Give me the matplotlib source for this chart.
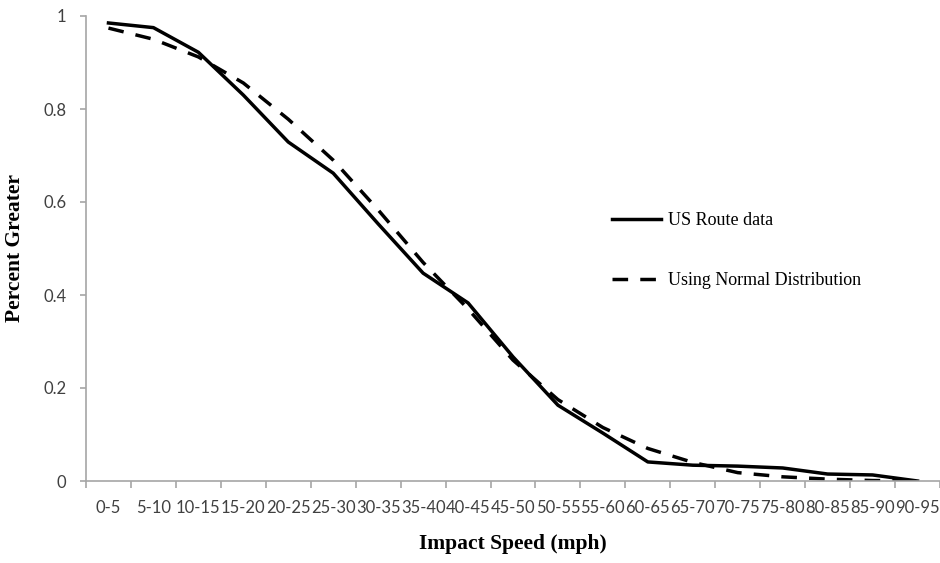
import numpy as np
import matplotlib.pyplot as plt

# speed bins
bins = ['0-5', '5-10', '10-15', '15-20', '20-25', '25-30', '30-35', '35-40',
        '40-45', '45-50', '50-55', '55-60', '60-65', '65-70', '70-75', '75-80',
        '80-85', '85-90', '90-95']

# fraction of impacts greater than the bin
us_route = [0.985, 0.975, 0.922, 0.830, 0.729, 0.662, 0.553, 0.447, 0.383,
            0.267, 0.163, 0.103, 0.041, 0.034, 0.032, 0.028, 0.015, 0.013, 0.0]
normal_dist = [0.974, 0.950, 0.912, 0.856, 0.778, 0.690, 0.583, 0.470, 0.370,
               0.260, 0.175, 0.115, 0.070, 0.040, 0.018, 0.009, 0.004, 0.001, 0.0]

x = np.arange(len(bins))

fig = plt.figure(figsize=(9.4, 5.63), dpi=100)
ax = fig.add_axes([86/940, (563-481)/563, 854/940, 465/563])

ax.plot(x, us_route, color='black', lw=2.5, ls='-', label='US Route data')
ax.plot(x, normal_dist, color='black', lw=2.5, ls=(0, (4.5, 3.5)),
        label='Using Normal Distribution')

ax.set_xlim(-0.5, len(bins) - 0.5)
ax.set_ylim(0, 1)

for s in ['top', 'right']:
    ax.spines[s].set_visible(False)
for s in ['left', 'bottom']:
    ax.spines[s].set_color('#a6a6a6')
    ax.spines[s].set_linewidth(1.2)

ax.set_yticks([0, 0.2, 0.4, 0.6, 0.8, 1.0])
ax.set_yticklabels(['0', '0.2', '0.4', '0.6', '0.8', '1'])
ax.set_xticks(x)
ax.set_xticklabels(bins)
ax.set_xticks(np.arange(len(bins) + 1) - 0.5, minor=True)
ax.tick_params(axis='x', which='major', length=0, pad=14)
ax.tick_params(axis='x', which='minor', length=5, color='#a6a6a6', width=1.2)
ax.tick_params(axis='y', length=4, color='#a6a6a6', width=1.2, pad=10)
for lab in ax.get_xticklabels() + ax.get_yticklabels():
    lab.set_fontfamily('Lato')
    lab.set_fontsize(12)
    lab.set_color('#404040')

ax.set_xlabel('Impact Speed (mph)', family='Liberation Serif', weight='bold',
              fontsize=15.5, labelpad=13)
ax.set_ylabel('Percent Greater', family='Liberation Serif', weight='bold',
              fontsize=15.5, labelpad=13)

ax.legend(loc='center left', bbox_to_anchor=(0.616, 0.495), frameon=False,
          prop={'family': 'Liberation Serif', 'size': 13}, labelspacing=2.4,
          handlelength=2.7, handletextpad=0.4, borderpad=0, borderaxespad=0)

plt.savefig('out.png', dpi=100)
